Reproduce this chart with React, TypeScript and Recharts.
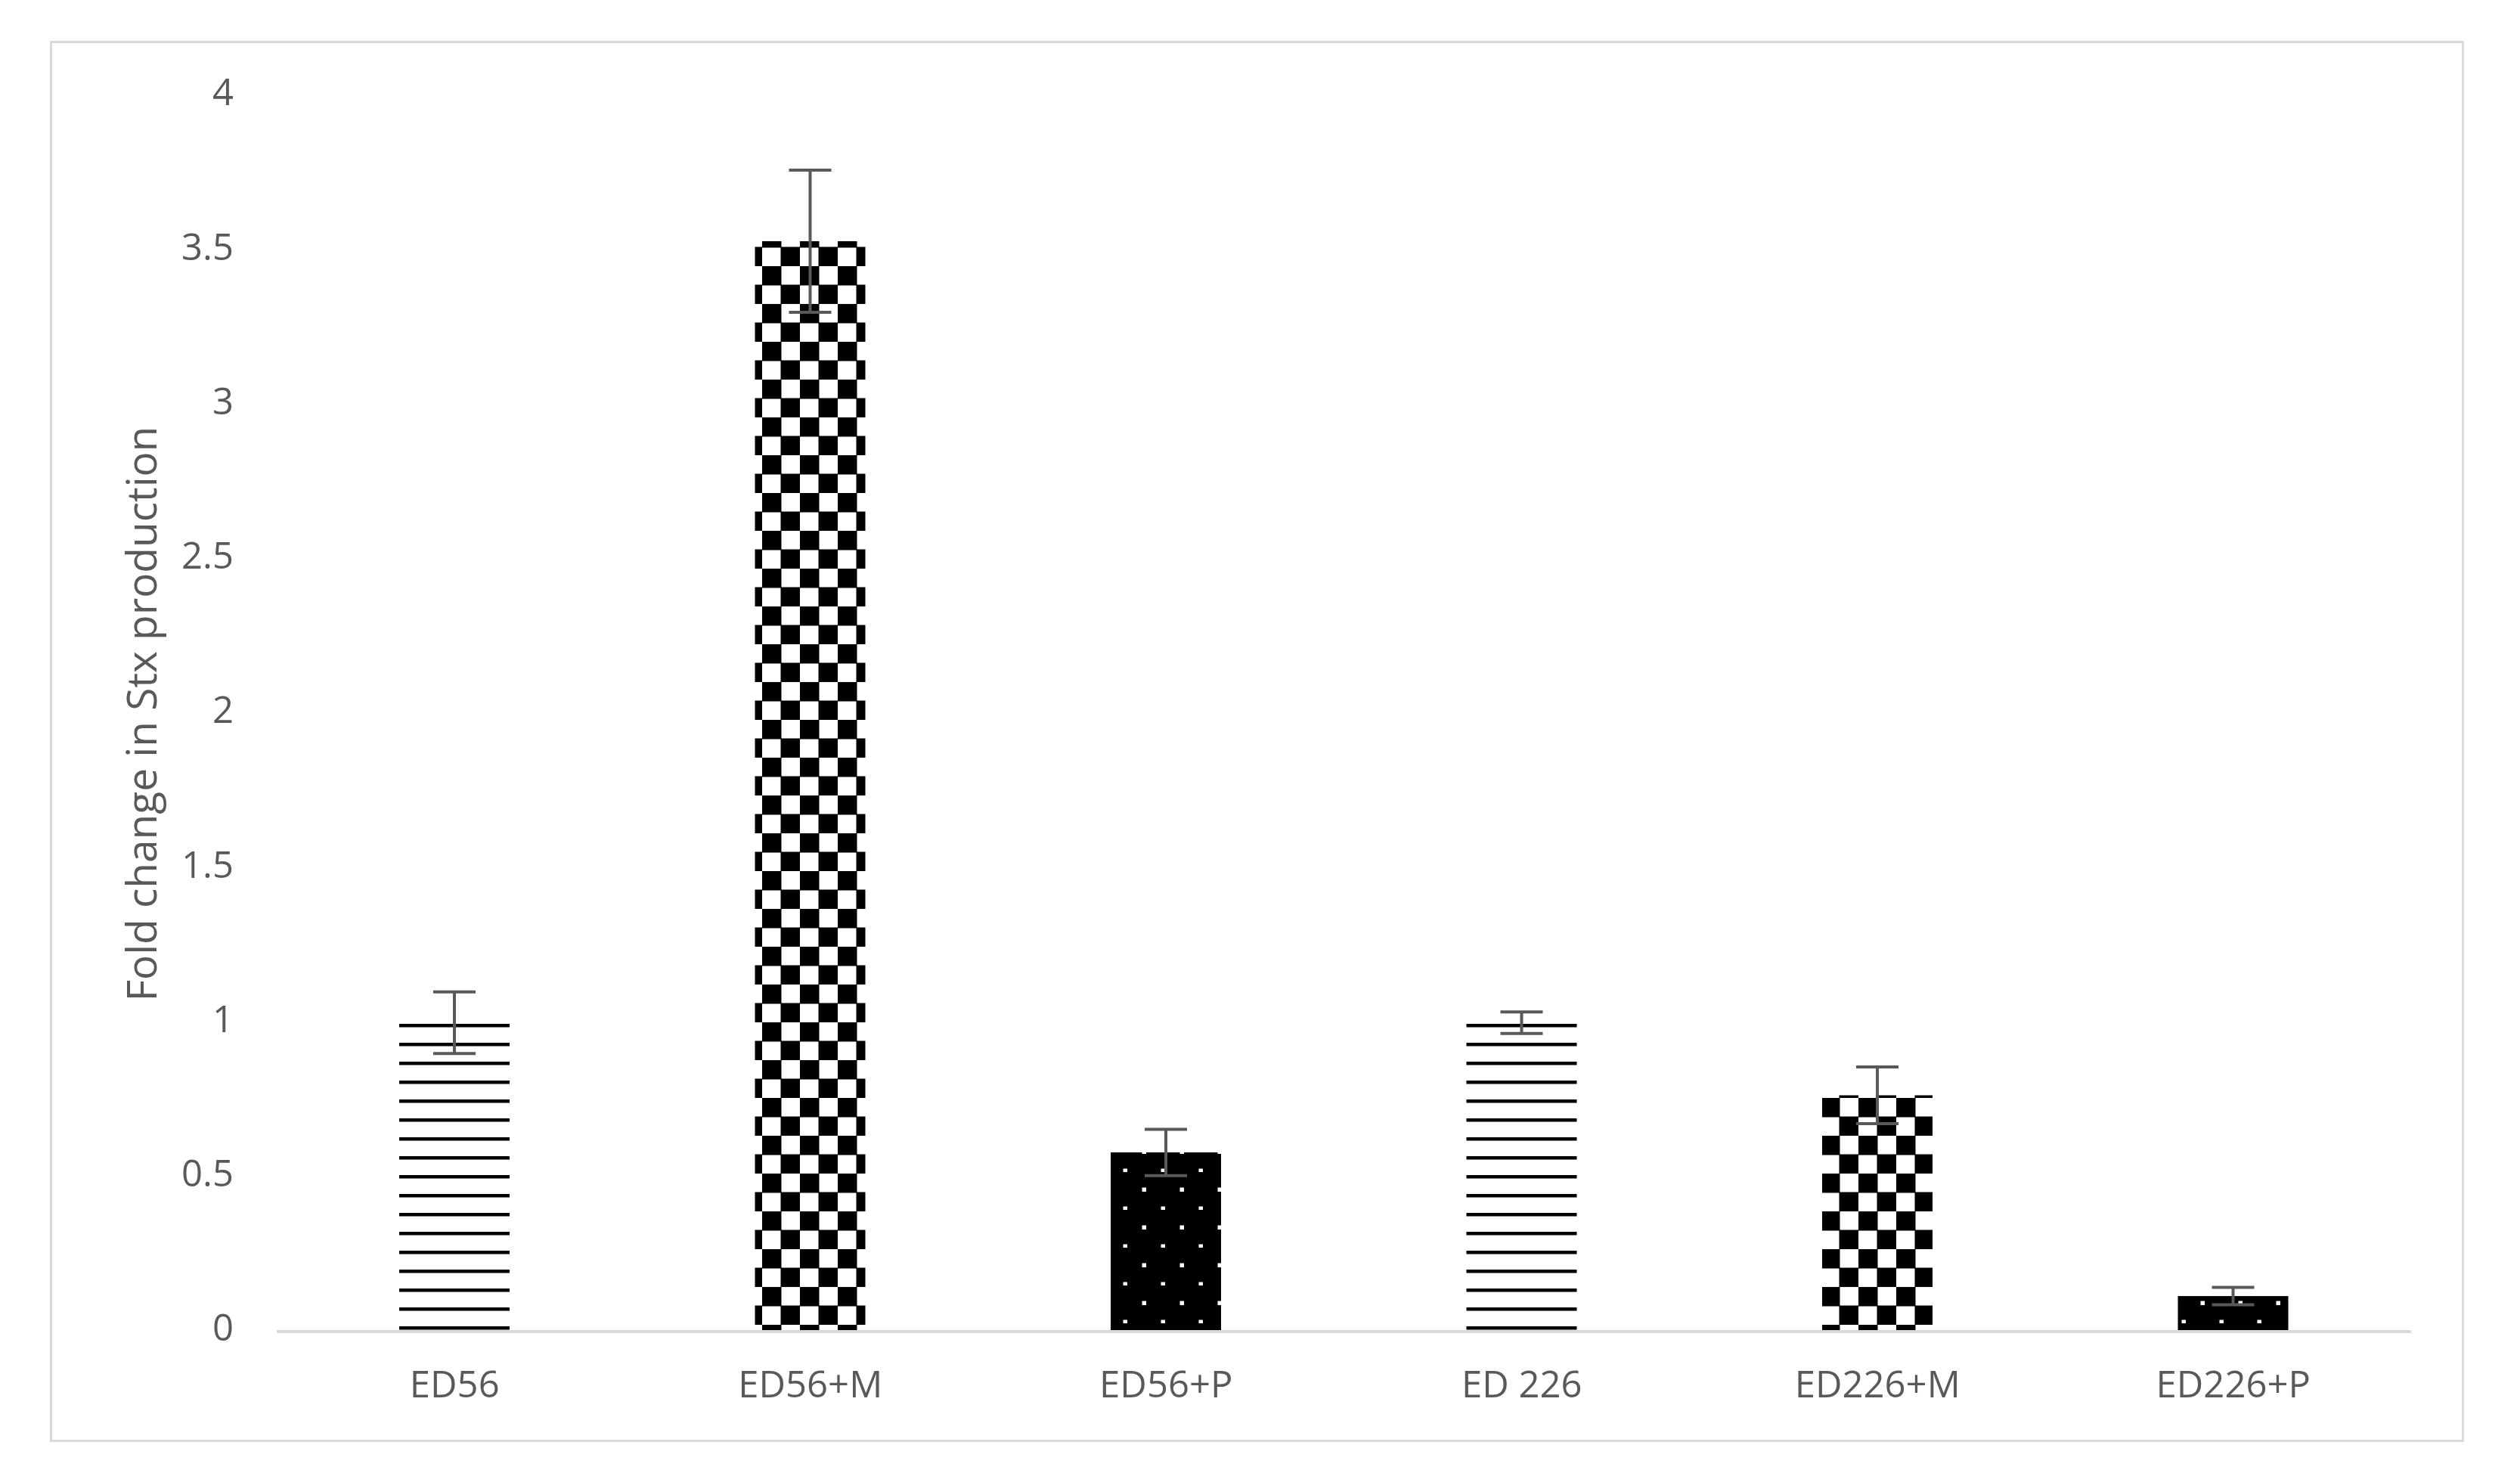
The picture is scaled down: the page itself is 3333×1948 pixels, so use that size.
import { Bar, BarChart, Cell, ErrorBar, XAxis, YAxis, Label } from "recharts";

const categories = ["ED56", "ED56+M", "ED56+P", "ED 226", "ED226+M", "ED226+P"];
const foldChange = [1.0, 3.53, 0.58, 1.0, 0.765, 0.115];
const foldError = [0.1, 0.23, 0.075, 0.035, 0.092, 0.028];
const yTicks = [0, 0.5, 1, 1.5, 2, 2.5, 3, 3.5, 4];

const barFills = ["url(#hlines)", "url(#checker)", "url(#dots)", "url(#hlines)", "url(#checker)", "url(#dots)"];

const data = categories.map((name, i) => ({
  name,
  value: foldChange[i],
  err: foldError[i],
}));

const FONT = "'Open Sans', 'Liberation Sans', sans-serif";
const TEXT = "#595959";

export default function App() {
  return (
    <div
      style={{
        position: "absolute",
        left: 0,
        top: 0,
        width: 3333,
        height: 1948,
        background: "#fff",
        fontFamily: FONT,
      }}
    >
      <div
        style={{
          position: "absolute",
          left: 66,
          top: 54,
          width: 3193,
          height: 1853,
          border: "3px solid #d9d9d9",
          boxSizing: "border-box",
        }}
      />
      <div style={{ position: "absolute", left: 0, top: 0 }}>
        <BarChart
          width={3333}
          height={1948}
          data={data}
          margin={{ top: 127, right: 144, bottom: 87, left: 0 }}
        >
          <defs>
            <pattern id="hlines" patternUnits="userSpaceOnUse" width={20} height={25}>
              <rect x={0} y={0} width={20} height={25} fill="#fff" />
              <rect x={0} y={4} width={20} height={4.5} fill="#000" />
            </pattern>
            <pattern id="checker" patternUnits="userSpaceOnUse" x={8} y={2} width={50} height={50}>
              <rect x={0} y={0} width={50} height={50} fill="#fff" />
              <rect x={0} y={0} width={25.5} height={25.5} fill="#000" />
              <rect x={24.5} y={24.5} width={25.5} height={25.5} fill="#000" />
              <rect x={49} y={49} width={1} height={1} fill="#000" />
            </pattern>
            <pattern id="dots" patternUnits="userSpaceOnUse" width={50} height={50}>
              <rect x={0} y={0} width={50} height={50} fill="#000" />
              <rect x={35.5} y={45.5} width={5.5} height={5.5} fill="#fff" />
              <rect x={10.5} y={20.5} width={5.5} height={5.5} fill="#fff" />
            </pattern>
          </defs>
          <XAxis
            dataKey="name"
            height={100}
            axisLine={{ stroke: "#d9d9d9", strokeWidth: 4 }}
            tickLine={false}
            tickSize={0}
            tickMargin={52}
            tick={{ fill: TEXT, fontSize: 49, fontFamily: FONT }}
          />
          <YAxis
            width={366}
            domain={[0, 4]}
            ticks={yTicks}
            axisLine={false}
            tickLine={false}
            tickSize={0}
            tickMargin={57}
            tick={{ fill: TEXT, fontSize: 49, fontFamily: FONT, dy: -5 }}
          >
            <Label
              value="Fold change in Stx production"
              angle={-90}
              position="center"
              dx={4}
              style={{ fill: TEXT, fontSize: 55, fontFamily: FONT }}
            />
          </YAxis>
          <Bar dataKey="value" barSize={146} isAnimationActive={false}>
            {data.map((d, i) => (
              <Cell key={d.name} fill={barFills[i]} />
            ))}
            <ErrorBar
              dataKey="err"
              width={28}
              strokeWidth={4}
              stroke="#595959"
              direction="y"
              isAnimationActive={false}
            />
          </Bar>
        </BarChart>
      </div>
    </div>
  );
}
